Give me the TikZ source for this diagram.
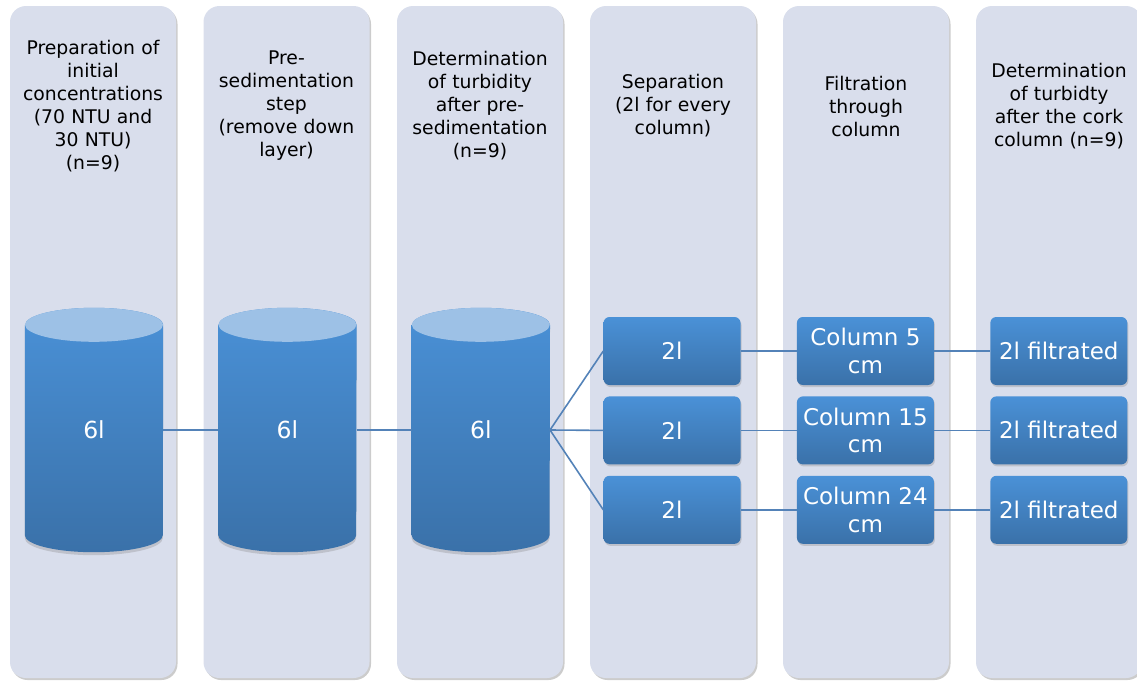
\documentclass[tikz,border=0pt]{standalone}
\usepackage{fontspec}
\setmainfont{DejaVu Sans}
\usetikzlibrary{positioning,shadows}

\definecolor{laneBg}{HTML}{D9DEEC}
\definecolor{boxTop}{HTML}{4A91D7}
\definecolor{boxBot}{HTML}{3A71A9}
\definecolor{capFill}{HTML}{9DC1E6}
\definecolor{linkCol}{HTML}{5382B8}
\pgfdeclarelayer{lanes}
\pgfdeclarelayer{tanks}
\pgfsetlayers{lanes,tanks,main}

\begin{document}
\begin{tikzpicture}[x=1pt, y=-1pt,
  lane/.style={fill=laneBg, rounded corners=16pt, minimum width=166pt,
    minimum height=672pt,
    drop shadow={shadow xshift=1.5pt, shadow yshift=-2pt, opacity=0.4}},
  title/.style={text width=166pt, align=center, text=black,
    font=\fontsize{18.8}{23}\selectfont},
  tank/.style={minimum width=138pt, minimum height=244pt, text=white,
    font=\fontsize{23.5}{28}\selectfont},
  vol/.style={rounded corners=6pt, minimum width=137pt, minimum height=68pt,
    inner sep=1pt, top color=boxTop, bottom color=boxBot, text=white,
    align=center, font=\fontsize{23}{27.5}\selectfont,
    drop shadow={shadow xshift=1pt, shadow yshift=-2pt, opacity=0.3}},
  link/.style={draw=linkCol, line width=1.6pt}
]
\useasboundingbox (0,0) rectangle (1137,680);

% lanes and their headings
\begin{pgfonlayer}{lanes}
\foreach \i/\x in {1/93, 2/286.5, 3/480, 4/673, 5/866, 6/1059}
  \node[lane] (lane\i) at (\x,342) {};
\end{pgfonlayer}

\node[title] (h1) at (lane1.center |- 0,106) {Preparation of\\initial\\concentrations\\(70 NTU and\\30 NTU)\\(n=9)};
\node[title] (h2) at (lane2.center |- 0,106) {Pre-\\sedimentation\\step\\(remove down\\layer)};
\node[title] (h3) at (lane3.center |- 0,106) {Determination\\of turbidity\\after pre-\\sedimentation\\(n=9)};
\node[title] (h4) at (lane4.center |- 0,106) {Separation\\(2l for every\\column)};
\node[title] (h5) at (lane5.center |- 0,106) {Filtration\\through\\column};
\node[title] (h6) at (lane6.center |- 0,106) {Determination\\of turbidty\\after the cork\\column (n=9)};

% tanks
\node[tank] (t1) at (94,430) {6l};
\node[tank, right=55pt of t1] (t2) {6l};
\node[tank, right=55pt of t2] (t3) {6l};

\begin{pgfonlayer}{tanks}
\foreach \t in {t1,t2,t3}{
  \shade[top color=boxTop, bottom color=boxBot,
    drop shadow={shadow xshift=0pt, shadow yshift=-3pt, opacity=0.3}]
    ([yshift=-17pt]\t.north west) -- ([yshift=17pt]\t.south west)
    arc[start angle=180, end angle=360, x radius=69pt, y radius=17pt]
    -- ([yshift=-17pt]\t.north east)
    arc[start angle=0, end angle=180, x radius=69pt, y radius=17pt] -- cycle;
  \fill[capFill] ([yshift=-17pt]\t.north) ellipse[x radius=69pt, y radius=17pt];
}
\end{pgfonlayer}

% split volumes
\node[vol] (s1) at (672,351) {2l};
\node[vol, below=11pt of s1] (s2) {2l};
\node[vol, below=11pt of s2] (s3) {2l};

\node[vol, right=56pt of s1] (c1) {Column 5\\cm};
\node[vol, right=56pt of s2] (c2) {Column 15\\cm};
\node[vol, right=56pt of s3] (c3) {Column 24\\cm};

\node[vol, right=56pt of c1] (f1) {2l filtrated};
\node[vol, right=56pt of c2] (f2) {2l filtrated};
\node[vol, right=56pt of c3] (f3) {2l filtrated};

% connections
\draw[link] (t1) -- (t2);
\draw[link] (t2) -- (t3);
\foreach \k in {1,2,3}{
  \draw[link] (t3.east) -- (s\k.west);
  \draw[link] (s\k) -- (c\k);
  \draw[link] (c\k) -- (f\k);
}
\end{tikzpicture}
\end{document}
